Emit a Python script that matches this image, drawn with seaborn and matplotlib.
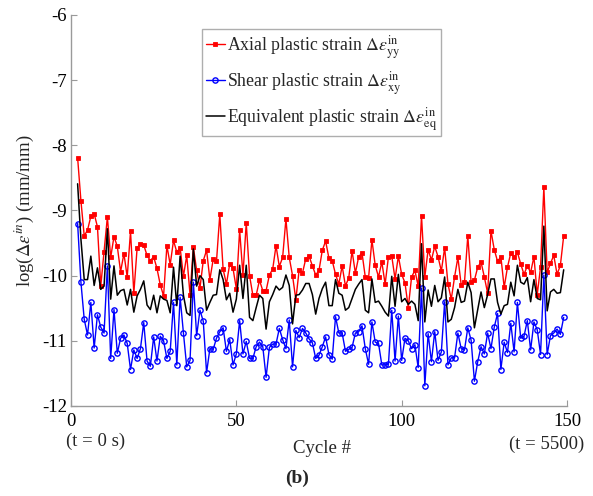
import numpy as np
import pandas as pd
import matplotlib
matplotlib.use("Agg")
import matplotlib.pyplot as plt
import seaborn as sns

# ---------------- data ----------------
cycles = list(range(2, 150))

axial = [
    -8.19, -8.85, -9.39, -9.30, -9.09, -9.05, -9.25, -10.16, -9.63, -9.10,
    -9.72, -9.40, -9.55, -9.94, -9.66, -10.02, -9.32, -10.27, -9.57, -9.52,
    -9.53, -9.69, -9.77, -9.71, -9.89, -10.14, -10.31, -9.54, -9.83, -9.46,
    -9.64, -9.57, -10.01, -9.69, -10.29, -9.56, -9.92, -10.19, -9.77, -9.61,
    -10.06, -9.75, -9.78, -9.06, -9.90, -10.13, -9.82, -9.89, -10.20, -9.30,
    -9.99, -9.19, -10.00, -10.30, -10.30, -10.07, -10.23, -10.23, -9.99, -9.90,
    -9.54, -9.86, -9.72, -9.13, -9.72, -10.00, -10.37, -9.91, -9.96, -9.74,
    -9.70, -9.85, -9.99, -9.92, -9.61, -9.47, -9.73, -9.77, -9.98, -10.13,
    -9.85, -10.16, -10.03, -9.62, -9.96, -9.71, -9.65, -10.02, -10.03, -9.45,
    -9.84, -10.02, -9.79, -10.13, -9.71, -9.70, -10.05, -9.70, -9.98, -10.11,
    -10.49, -10.02, -9.92, -10.16, -9.08, -10.02, -9.60, -9.76, -9.55, -9.71,
    -9.93, -9.57, -10.13, -10.36, -10.02, -9.72, -10.14, -10.10, -9.39, -10.10,
    -10.07, -9.87, -9.79, -10.02, -10.27, -9.31, -9.60, -9.78, -9.71, -10.18,
    -9.87, -9.65, -9.72, -9.64, -9.82, -9.98, -9.85, -9.95, -9.71, -10.29,
    -9.87, -8.64, -9.95, -9.81, -9.69, -9.98, -9.84, -9.39,
]

shear = [
    -9.20, -10.10, -10.67, -10.91, -10.41, -11.11, -10.60, -10.79, -10.88, -9.85,
    -11.27, -10.52, -11.19, -10.96, -10.91, -11.04, -11.44, -11.14, -11.27, -11.12,
    -10.72, -11.31, -11.39, -10.94, -11.31, -10.93, -11.00, -11.27, -11.16, -10.41,
    -11.37, -10.33, -10.88, -11.40, -11.30, -10.10, -10.92, -10.53, -10.70, -11.49,
    -11.12, -11.13, -10.96, -10.86, -10.80, -11.16, -10.98, -11.37, -11.20, -10.69,
    -11.20, -11.01, -11.27, -11.27, -11.09, -11.02, -11.09, -11.56, -11.10, -11.05,
    -11.05, -10.81, -10.98, -11.12, -10.68, -11.40, -10.84, -10.95, -10.81, -10.88,
    -10.97, -11.03, -11.27, -11.22, -11.09, -10.94, -11.21, -11.28, -10.63, -10.88,
    -10.88, -11.16, -11.13, -11.10, -10.88, -10.86, -10.77, -11.12, -11.36, -10.71,
    -11.02, -11.04, -11.37, -11.37, -11.36, -10.53, -11.31, -10.62, -11.30, -10.96,
    -11.00, -11.12, -11.06, -11.41, -10.19, -11.69, -10.89, -11.32, -10.86, -11.30,
    -11.17, -10.40, -11.37, -11.26, -11.26, -10.88, -11.12, -11.14, -10.80, -10.99,
    -11.62, -11.32, -11.09, -11.20, -10.88, -11.12, -10.79, -10.58, -11.44, -11.02,
    -11.18, -10.73, -11.17, -10.41, -10.96, -10.93, -10.69, -11.14, -10.71, -10.83,
    -11.21, -9.99, -11.21, -10.92, -10.88, -10.82, -10.90, -10.64,
]

equivalent = [
    -8.59, -9.44, -10.06, -10.06, -9.70, -10.15, -9.88, -10.21, -10.16, -9.28,
    -10.36, -9.85, -10.30, -10.23, -10.21, -10.45, -10.21, -10.56, -10.31, -10.21,
    -10.08, -10.45, -10.52, -10.30, -10.57, -10.31, -10.36, -10.38, -10.57, -9.87,
    -10.46, -9.70, -10.30, -10.57, -10.61, -9.59, -10.16, -10.00, -10.06, -10.53,
    -10.41, -10.30, -10.29, -9.91, -10.06, -10.37, -10.27, -10.56, -10.36, -9.84,
    -10.35, -9.84, -10.64, -10.69, -10.49, -10.30, -10.35, -10.82, -10.40, -10.29,
    -10.16, -10.22, -10.18, -9.99, -10.15, -10.74, -10.30, -10.29, -10.22, -10.12,
    -10.12, -10.29, -10.59, -10.35, -10.20, -10.10, -10.46, -10.46, -10.06, -10.27,
    -10.30, -10.53, -10.49, -10.35, -10.21, -10.13, -10.06, -10.53, -10.57, -10.05,
    -10.41, -10.39, -10.47, -10.56, -10.62, -10.01, -10.47, -9.98, -10.40, -10.35,
    -10.44, -10.39, -10.44, -10.69, -9.51, -10.71, -10.22, -10.47, -10.15, -10.40,
    -10.34, -10.02, -10.71, -10.67, -10.49, -10.21, -10.41, -10.39, -10.10, -10.26,
    -10.80, -10.52, -10.25, -10.49, -10.29, -10.05, -10.05, -10.41, -10.59, -10.46,
    -10.44, -10.10, -10.31, -9.84, -10.10, -10.13, -10.03, -10.40, -10.06, -10.35,
    -10.37, -9.24, -10.54, -10.25, -10.21, -10.27, -10.26, -9.91,
]

labels = [
    r"Axial plastic strain $\Delta\epsilon^{\mathrm{in}}_{\mathrm{yy}}$",
    r"Shear plastic strain $\Delta\epsilon^{\mathrm{in}}_{\mathrm{xy}}$",
    r"Equivalent plastic strain $\Delta\epsilon^{\mathrm{in}}_{\mathrm{eq}}$",
]
xticks = [0, 50, 100, 150]
yticks = [-6, -7, -8, -9, -10, -11, -12]

assert len(axial) == len(shear) == len(equivalent) == len(cycles)

df = pd.DataFrame({"cycle": cycles, "axial": axial, "shear": shear, "eq": equivalent})

# ---------------- style ----------------
sns.set_style("ticks")
plt.rcParams["font.family"] = ["Liberation Serif", "DejaVu Serif"]
plt.rcParams["mathtext.fontset"] = "stix"
spine_col = "#9a9a9a"

fig = plt.figure(figsize=(5.93, 4.96), dpi=100)
ax = fig.add_axes([71 / 593, 1 - 406 / 496, 496 / 593, 391 / 496])

sns.lineplot(data=df, x="cycle", y="axial", ax=ax, color="#ff0000", lw=1.0,
             marker="s", markersize=2.2, markeredgewidth=0.6, markeredgecolor="#ff0000",
             label=labels[0])
sns.lineplot(data=df, x="cycle", y="shear", ax=ax, color="#0000ff", lw=1.0,
             marker="o", markersize=3.8, markerfacecolor="none", markeredgewidth=1.0,
             markeredgecolor="#0000ff", label=labels[1])
sns.lineplot(data=df, x="cycle", y="eq", ax=ax, color="black", lw=1.1,
             label=labels[2])

ax.set_xlim(0, 150)
ax.set_ylim(-12, -6)
ax.set_xticks(xticks)
ax.set_yticks(yticks)
ax.set_xticklabels([str(v) for v in xticks])
ax.set_yticklabels([str(v) for v in yticks])
for s in ["top", "right"]:
    ax.spines[s].set_visible(False)
for s in ["left", "bottom"]:
    ax.spines[s].set_color(spine_col)
    ax.spines[s].set_linewidth(1.0)
ax.tick_params(direction="in", length=4, width=0.8, color=spine_col,
               labelsize=13.5, labelcolor="black")
ax.tick_params(axis="x", pad=5)
ax.tick_params(axis="y", pad=3)

ax.set_xlabel("")
ax.set_ylabel(r"log($\Delta\epsilon^{in}$) (mm/mm)", fontsize=13.5)
ax.yaxis.set_label_coords(-0.07, 0.5)

fig.text(0.161, 0.111, "(t = 0 s)", ha="center", va="center", fontsize=13.5)
fig.text(0.922, 0.104, "(t = 5500)", ha="center", va="center", fontsize=13.5)
fig.text(0.543, 0.095, "Cycle #", ha="center", va="center", fontsize=13.5)
fig.text(0.501, 0.036, "(b)", ha="center", va="center", fontsize=14, fontweight="bold")

leg = ax.legend(loc="upper left", bbox_to_anchor=((202 - 71) / 496, (406 - 29) / 391),
                borderaxespad=0, fontsize=12.8, handlelength=1.1, handletextpad=0.1,
                borderpad=0.2, labelspacing=0.45, frameon=True, fancybox=False)
leg.get_frame().set_edgecolor(spine_col)
leg.get_frame().set_linewidth(1.0)

fig.savefig("out.png", dpi=100)
